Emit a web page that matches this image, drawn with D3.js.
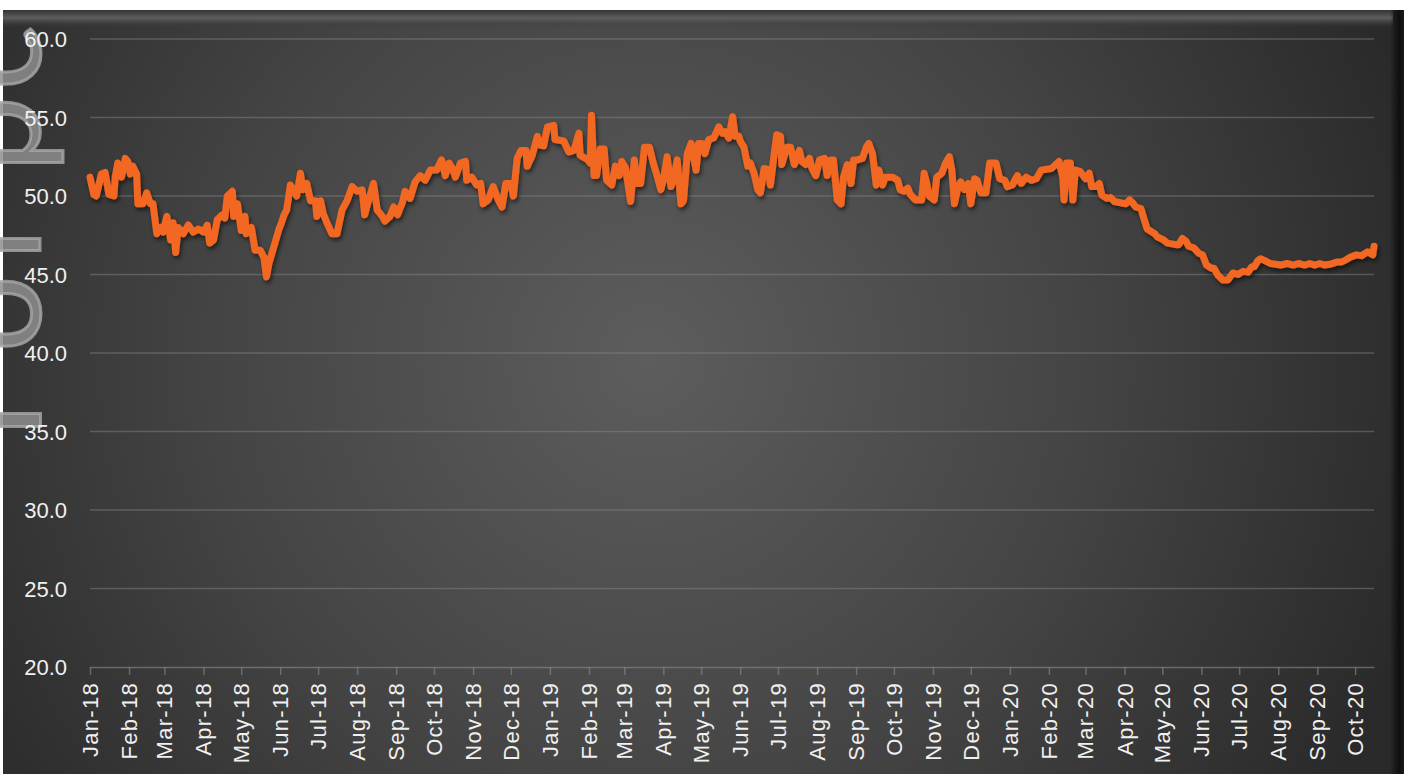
<!DOCTYPE html>
<html>
<head>
<meta charset="utf-8">
<script src="https://cdn.jsdelivr.net/npm/d3@7"></script>
<style>
html, body { margin: 0; padding: 0; background: #ffffff; }
svg { display: block; }
</style>
</head>
<body>
<div id="chart"></div>
<script>
// series
var dates = ["2018-01-01","2018-01-04","2018-01-06","2018-01-10","2018-01-13","2018-01-16","2018-01-20","2018-01-21","2018-01-23","2018-01-26","2018-01-29","2018-01-31",
"2018-02-02","2018-02-04","2018-02-07","2018-02-08","2018-02-12","2018-02-15","2018-02-18","2018-02-20","2018-02-23","2018-02-26","2018-02-28",
"2018-03-03","2018-03-06","2018-03-08","2018-03-10","2018-03-12","2018-03-16","2018-03-20","2018-03-24","2018-03-28",
"2018-04-01","2018-04-04","2018-04-06","2018-04-09","2018-04-12","2018-04-16","2018-04-18","2018-04-20","2018-04-24","2018-04-25","2018-04-28",
"2018-05-01","2018-05-04","2018-05-05","2018-05-09","2018-05-12","2018-05-16","2018-05-19","2018-05-21","2018-05-23","2018-05-27","2018-05-31",
"2018-06-02","2018-06-04","2018-06-06","2018-06-09","2018-06-11","2018-06-14","2018-06-17","2018-06-19","2018-06-22","2018-06-25","2018-06-29","2018-06-30",
"2018-07-03","2018-07-05","2018-07-08","2018-07-12","2018-07-16","2018-07-20","2018-07-24","2018-07-28",
"2018-08-01","2018-08-05","2018-08-07","2018-08-10","2018-08-14","2018-08-17","2018-08-21","2018-08-23","2018-08-27","2018-08-30",
"2018-09-02","2018-09-06","2018-09-08","2018-09-12","2018-09-16","2018-09-20","2018-09-24","2018-09-28",
"2018-10-03","2018-10-07","2018-10-10","2018-10-13","2018-10-16","2018-10-18","2018-10-22","2018-10-26","2018-10-27","2018-10-31",
"2018-11-04","2018-11-07","2018-11-09","2018-11-13","2018-11-17","2018-11-21","2018-11-24","2018-11-27",
"2018-12-01","2018-12-03","2018-12-06","2018-12-09","2018-12-13","2018-12-14","2018-12-18","2018-12-22","2018-12-24","2018-12-27","2018-12-30",
"2019-01-04","2019-01-05","2019-01-12","2019-01-16","2019-01-20","2019-01-24","2019-01-25","2019-01-31",
"2019-02-02","2019-02-03","2019-02-05","2019-02-07","2019-02-10","2019-02-13","2019-02-15","2019-02-19","2019-02-22","2019-02-25","2019-02-27",
"2019-03-02","2019-03-06","2019-03-09","2019-03-11","2019-03-14","2019-03-17","2019-03-21","2019-03-24","2019-03-27","2019-03-30",
"2019-04-01","2019-04-04","2019-04-07","2019-04-09","2019-04-12","2019-04-15","2019-04-17","2019-04-20","2019-04-23","2019-04-27","2019-04-29",
"2019-05-02","2019-05-04","2019-05-07","2019-05-11","2019-05-15","2019-05-18","2019-05-20","2019-05-23","2019-05-26","2019-05-28","2019-05-31",
"2019-06-01","2019-06-04","2019-06-07","2019-06-09","2019-06-12","2019-06-15","2019-06-17","2019-06-20","2019-06-23","2019-06-25","2019-06-28","2019-06-30",
"2019-07-03","2019-07-04","2019-07-08","2019-07-11","2019-07-14","2019-07-18","2019-07-20","2019-07-23","2019-07-26","2019-07-28","2019-07-31",
"2019-08-03","2019-08-07","2019-08-09","2019-08-12","2019-08-14","2019-08-17","2019-08-20","2019-08-22","2019-08-25","2019-08-28","2019-08-30",
"2019-09-02","2019-09-06","2019-09-09","2019-09-11","2019-09-14","2019-09-17","2019-09-19","2019-09-22","2019-09-24","2019-09-30",
"2019-10-04","2019-10-06","2019-10-09","2019-10-12","2019-10-14","2019-10-18","2019-10-23","2019-10-25","2019-10-27","2019-10-29",
"2019-11-02","2019-11-04","2019-11-08","2019-11-11","2019-11-14","2019-11-16","2019-11-18","2019-11-21","2019-11-23","2019-11-26","2019-11-29",
"2019-12-01","2019-12-04","2019-12-06","2019-12-09","2019-12-13","2019-12-16","2019-12-21","2019-12-24","2019-12-28","2019-12-30",
"2020-01-03","2020-01-07","2020-01-10","2020-01-14","2020-01-18","2020-01-22","2020-01-26",
"2020-02-03","2020-02-09","2020-02-12","2020-02-13","2020-02-15","2020-02-18","2020-02-20","2020-02-22","2020-02-26",
"2020-03-01","2020-03-04","2020-03-06","2020-03-10","2020-03-12","2020-03-14","2020-03-18","2020-03-21","2020-03-24",
"2020-04-02","2020-04-05","2020-04-07","2020-04-10","2020-04-14","2020-04-17","2020-04-19","2020-04-25","2020-04-27",
"2020-05-02","2020-05-05","2020-05-12","2020-05-14","2020-05-17","2020-05-20","2020-05-22","2020-05-26","2020-05-30",
"2020-06-02","2020-06-05","2020-06-09","2020-06-11","2020-06-14","2020-06-18","2020-06-22","2020-06-26","2020-06-30",
"2020-07-04","2020-07-08","2020-07-11","2020-07-13","2020-07-16","2020-07-18","2020-07-21","2020-07-26",
"2020-08-03","2020-08-08","2020-08-13","2020-08-17","2020-08-22","2020-08-26","2020-08-30",
"2020-09-03","2020-09-07","2020-09-11","2020-09-17","2020-09-20","2020-09-23","2020-09-27",
"2020-10-02","2020-10-06","2020-10-11","2020-10-15","2020-10-16"];

var values = [51.2,50.1,50.0,51.4,51.5,50.1,50.0,51.2,52.1,51.2,52.4,52.2,
51.4,51.9,51.4,49.5,49.5,50.2,49.5,49.5,47.6,48.0,47.7,
48.7,47.2,48.3,46.4,48.0,47.6,48.15,47.7,47.9,
47.7,48.15,47.0,47.2,48.5,48.8,48.6,50.0,50.3,48.7,49.5,
47.8,48.7,47.6,48.0,46.55,46.55,46.1,44.85,45.7,46.8,47.9,
48.3,48.8,49.1,50.7,50.4,50.0,51.45,50.4,50.8,49.7,49.7,48.7,
49.7,48.9,48.3,47.6,47.6,49.1,49.7,50.6,
50.3,50.4,48.8,49.7,50.8,49.1,48.7,48.4,48.7,49.3,
48.8,49.6,50.3,49.85,50.9,51.3,51.0,51.65,
51.65,52.3,51.3,52.1,51.7,51.2,52.1,52.2,51.0,51.2,
50.7,50.8,49.5,49.75,50.6,49.75,49.3,50.8,
50.8,50.0,52.4,52.9,52.9,51.9,52.6,53.8,53.25,53.2,54.4,
54.5,53.6,53.5,52.8,52.9,54.0,52.6,52.3,
52.1,55.15,51.3,51.3,53.0,53.0,51.0,50.7,51.9,51.3,52.2,
51.8,49.65,52.3,50.8,50.8,53.1,53.1,52.1,51.3,50.4,
51.0,52.5,50.6,51.0,52.3,49.5,49.7,52.7,53.35,51.65,53.35,
53.35,52.7,53.6,53.7,54.4,54.0,54.1,53.7,55.05,53.8,53.8,
53.5,53.1,51.9,52.1,51.45,50.4,50.2,51.75,51.7,50.7,52.7,53.9,
53.8,52.0,53.1,53.1,52.0,52.9,52.2,52.0,52.4,51.75,51.3,
52.3,52.4,51.3,52.3,52.3,49.75,49.5,51.2,52.0,50.8,52.3,
52.3,52.4,53.1,53.35,52.7,50.7,51.65,50.7,51.2,51.2,
51.0,50.4,50.3,50.5,50.1,49.75,49.75,51.45,50.8,50.0,
49.75,51.2,51.45,52.1,52.5,51.65,49.5,50.6,50.9,50.4,50.8,
49.5,51.1,51.0,50.2,50.2,52.1,52.1,51.1,51.0,50.6,
50.7,51.3,50.8,51.2,51.0,51.1,51.65,
51.75,52.2,51.2,49.75,52.1,52.1,49.75,51.65,51.55,
51.1,51.45,50.6,50.6,50.8,50.06,49.85,49.9,49.65,
49.5,49.75,49.6,49.3,49.2,48.4,47.9,47.6,47.4,
47.2,47.0,46.9,46.9,47.3,47.1,46.8,46.7,46.35,
46.25,45.6,45.4,45.4,44.97,44.65,44.65,45.1,45.0,
45.2,45.15,45.5,45.5,45.9,46.0,45.9,45.7,
45.6,45.7,45.6,45.7,45.6,45.7,45.6,
45.7,45.6,45.65,45.8,45.8,45.9,46.1,
46.25,46.2,46.45,46.25,46.8];

var yTicks = [20, 25, 30, 35, 40, 45, 50, 55, 60];
var xStart = "2018-01-01", xEnd = "2020-10-16";

var W = 1404, H = 774;
var parseDate = d3.utcParse("%Y-%m-%d");
var data = dates.map(function(d, i) { return { date: parseDate(d), value: values[i] }; });

var svg = d3.select("#chart").append("svg")
	.attr("width", W)
	.attr("height", H)
	.style("font-family", "Lato, 'Open Sans', sans-serif");

var defs = svg.append("defs");

// panel background: lighter in the middle, dark round the edges
var bg = defs.append("radialGradient")
	.attr("id", "bgGrad")
	.attr("gradientUnits", "userSpaceOnUse")
	.attr("cx", 650).attr("cy", 360).attr("r", 800);
bg.append("stop").attr("offset", 0).attr("stop-color", "#5d5d5d");
bg.append("stop").attr("offset", 0.55).attr("stop-color", "#444444");
bg.append("stop").attr("offset", 1).attr("stop-color", "#2a2a2a");

var topBevel = defs.append("linearGradient")
	.attr("id", "topBevel").attr("x1", 0).attr("y1", 0).attr("x2", 0).attr("y2", 1);
topBevel.append("stop").attr("offset", 0).attr("stop-color", "#333333");
topBevel.append("stop").attr("offset", 0.45).attr("stop-color", "#5e5e5e");
topBevel.append("stop").attr("offset", 1).attr("stop-color", "#333333").attr("stop-opacity", 0);

var rightBevel = defs.append("linearGradient")
	.attr("id", "rightBevel").attr("x1", 0).attr("y1", 0).attr("x2", 1).attr("y2", 0);
rightBevel.append("stop").attr("offset", 0).attr("stop-color", "#000").attr("stop-opacity", 0);
rightBevel.append("stop").attr("offset", 0.7).attr("stop-color", "#0a0a0a").attr("stop-opacity", 0.85);
rightBevel.append("stop").attr("offset", 1).attr("stop-color", "#1a1a1a").attr("stop-opacity", 0.9);

var shadow = defs.append("filter")
	.attr("id", "lineShadow")
	.attr("x", "-5%").attr("y", "-20%").attr("width", "110%").attr("height", "140%");
shadow.append("feDropShadow")
	.attr("dx", 1.5).attr("dy", 3)
	.attr("stdDeviation", 2)
	.attr("flood-color", "#000")
	.attr("flood-opacity", 0.55);

svg.append("rect")
	.attr("x", 3).attr("y", 10)
	.attr("width", W - 3).attr("height", H - 10)
	.attr("fill", "url(#bgGrad)");
svg.append("rect")
	.attr("x", 3).attr("y", 10)
	.attr("width", W - 14).attr("height", 18)
	.attr("fill", "url(#topBevel)");
svg.append("rect")
	.attr("x", W - 14).attr("y", 10)
	.attr("width", 14).attr("height", H - 10)
	.attr("fill", "url(#rightBevel)");

// big faded slide text along the left edge (sits behind the labels)
var mark = svg.append("text")
	.attr("transform", "translate(40,0) rotate(-90)")
	.attr("font-size", "135px")
	.attr("fill", "#8d8d8d")
	.attr("fill-opacity", 0.85)
	.attr("stroke", "#a8a8a8")
	.attr("stroke-width", 3)
	.attr("stroke-opacity", 0.8);
mark.append("tspan").attr("x", -460).text("T");
mark.append("tspan").attr("x", -352).text("o");
mark.append("tspan").attr("x", -260).text("r");
mark.append("tspan").attr("x", -172).text("p");
mark.append("tspan").attr("x", -90).text("c");

var x = d3.scaleUtc()
	.domain([parseDate(xStart), parseDate(xEnd)])
	.range([90, 1374]);
var y = d3.scaleLinear()
	.domain([20, 60])
	.range([667, 39]);

// horizontal gridlines
svg.append("g")
	.selectAll("line")
	.data(yTicks.filter(function(d) { return d > 20; }))
	.enter().append("line")
	.attr("x1", x.range()[0]).attr("x2", x.range()[1])
	.attr("y1", function(d) { return y(d); })
	.attr("y2", function(d) { return y(d); })
	.attr("stroke", "#8a8a8a")
	.attr("stroke-opacity", 0.45)
	.attr("stroke-width", 1.5);

// y axis labels
var yAxis = svg.append("g")
	.attr("transform", "translate(67,0)")
	.call(d3.axisLeft(y).tickValues(yTicks).tickFormat(d3.format(".1f")).tickSize(0).tickPadding(0));
yAxis.select(".domain").remove();
yAxis.selectAll("text")
	.attr("fill", "#f0f0f0")
	.attr("font-size", "22px")
	.attr("dy", "0.36em");

// x axis with month ticks
var xAxis = svg.append("g")
	.attr("transform", "translate(0,667)")
	.call(d3.axisBottom(x).ticks(d3.utcMonth.every(1)).tickFormat(d3.utcFormat("%b-%y")).tickSize(8).tickSizeOuter(0));
xAxis.select(".domain").attr("stroke", "#8a8a8a").attr("stroke-opacity", 0.6).attr("stroke-width", 1.5);
xAxis.selectAll(".tick line").attr("stroke", "#8a8a8a").attr("stroke-opacity", 0.6).attr("stroke-width", 1.5);
xAxis.selectAll(".tick text")
	.attr("fill", "#f0f0f0")
	.attr("font-size", "22px")
	.attr("letter-spacing", "1.3px")
	.style("text-anchor", "end")
	.attr("dominant-baseline", "central")
	.attr("x", -15)
	.attr("y", 0)
	.attr("dy", 0)
	.attr("transform", "rotate(-90)");

// the series line
var line = d3.line()
	.x(function(d) { return x(d.date); })
	.y(function(d) { return y(d.value); });

svg.append("path")
	.datum(data)
	.attr("d", line)
	.attr("fill", "none")
	.attr("stroke", "#f26722")
	.attr("stroke-width", 7)
	.attr("stroke-linejoin", "round")
	.attr("stroke-linecap", "round")
	.attr("filter", "url(#lineShadow)");
</script>
</body>
</html>
